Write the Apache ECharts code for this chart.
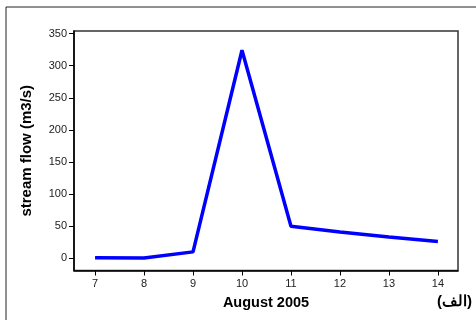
<!DOCTYPE html>
<html>
<head>
<meta charset="utf-8">
<script src="https://cdn.jsdelivr.net/npm/echarts@6/dist/echarts.min.js"></script>
<style>html,body{margin:0;padding:0;background:#fff;}#c{width:476px;height:320px;}</style>
</head>
<body>
<div id="c"></div>
<script>
const days = [7, 8, 9, 10, 11, 12, 13, 14];
const flow = [1, 0.5, 10, 324, 50, 41, 33, 26];
const yTicks = [0, 50, 100, 150, 200, 250, 300, 350];
const xTitle = 'August 2005';
const yTitle = 'stream flow (m3/s)';
const panelLabel = '(الف)';

const chart = echarts.init(document.getElementById('c'), null, {renderer: 'canvas'});
const font = '"Liberation Sans", Arial, sans-serif';
chart.setOption({
  animation: false,
  backgroundColor: '#fff',
  grid: {left: 74, top: 31, right: 18, bottom: 49.5, show: true, borderColor: '#333', borderWidth: 1.5, backgroundColor: 'transparent'},
  xAxis: {
    type: 'value', min: 6.57, max: 14.41,
    name: xTitle, nameLocation: 'middle', nameGap: 25,
    nameTextStyle: {fontFamily: font, fontWeight: 'bold', fontSize: 14.5, color: '#000'},
    axisLine: {show: true, onZero: false, lineStyle: {color: '#000', width: 1.5}},
    axisTick: {show: true, inside: false, length: 5, customValues: days, lineStyle: {color: '#000'}},
    axisLabel: {customValues: days, fontFamily: font, fontSize: 11, color: '#222', margin: 8},
    splitLine: {show: false}
  },
  yAxis: {
    type: 'value', min: -19, max: 354,
    name: yTitle, nameLocation: 'middle', nameGap: 40, nameRotate: 90,
    nameTextStyle: {fontFamily: font, fontWeight: 'bold', fontSize: 15, color: '#000'},
    axisLine: {show: true, onZero: false, lineStyle: {color: '#000', width: 1.5}},
    axisTick: {show: true, inside: false, length: 5, customValues: yTicks, lineStyle: {color: '#000'}},
    axisLabel: {customValues: yTicks, fontFamily: font, fontSize: 11, color: '#222', margin: 7},
    splitLine: {show: false}
  },
  graphic: [
    {type: 'rect', shape: {x: 6, y: 7, width: 480, height: 330}, style: {fill: 'none', stroke: '#222', lineWidth: 1}, silent: true, z: 10},
    {type: 'text', left: 437, top: 294, style: {text: panelLabel, font: 'bold 15px ' + font, fill: '#000'}}
  ],
  series: [{
    type: 'line',
    data: days.map((d, i) => [d, flow[i]]),
    symbol: 'none',
    lineStyle: {color: '#0000ff', width: 3.5},
    z: 3
  }]
});
</script>
</body>
</html>
